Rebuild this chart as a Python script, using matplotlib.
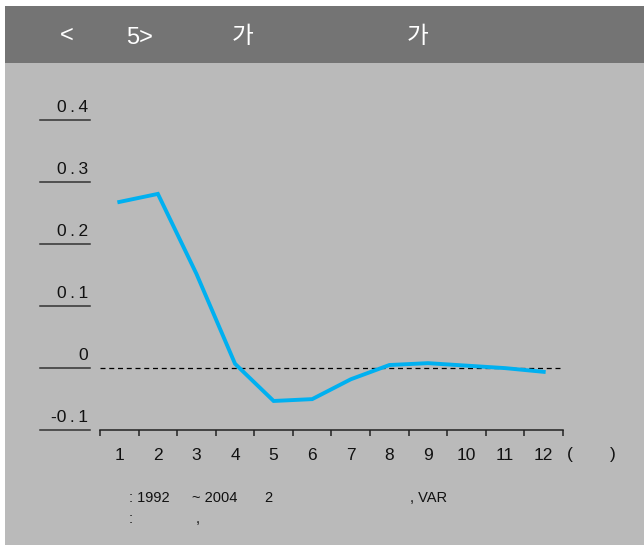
import matplotlib
matplotlib.use('Agg')
import matplotlib.pyplot as plt
import matplotlib.transforms as mtransforms
from matplotlib.patches import Rectangle

plt.rcParams['font.family'] = ['Liberation Sans', 'Noto Sans CJK KR', 'DejaVu Sans']

# 데이터
months = list(range(1, 13))
response = [0.267, 0.280, 0.151, 0.006, -0.054, -0.051, -0.019, 0.004, 0.007, 0.003, -0.001, -0.007]
y_ticks = [0.4, 0.3, 0.2, 0.1, 0.0, -0.1]
y_labels = ['0\u2009.\u20094', '0\u2009.\u20093', '0\u2009.\u20092', '0\u2009.\u20091', '0', '-0\u2009.\u20091']
x_labels = [str(m) for m in months]
title_parts = ['<', '5>', '가', '가']
note_line1 = [': 1992', '~ 2004', '2', ', VAR']
note_line2 = [':', ',']

W, H = 644, 545


def fx(x):
    return x / W


def fy(y):
    return 1 - y / H


fig = plt.figure(figsize=(W / 100, H / 100), dpi=100)
fig.patch.set_facecolor('white')

# 배경 / 제목 막대
fig.add_artist(Rectangle((fx(5), 0), 1 - fx(5), fy(6), transform=fig.transFigure,
                         facecolor='#bababa', edgecolor='none', zorder=0))
fig.add_artist(Rectangle((fx(5), fy(63)), 1 - fx(5), fy(6) - fy(63), transform=fig.transFigure,
                         facecolor='#747474', edgecolor='none', zorder=1))
for txt, xp, yp in zip(title_parts, [67, 140, 243, 418], [42, 44, 43, 43]):
    fig.text(fx(xp), fy(yp), txt, color='white', fontsize=17, ha='center', va='baseline')

ax = fig.add_axes([fx(100), fy(429.5), fx(563) - fx(100), fy(119.5) - fy(429.5)])
ax.set_xlim(0.5, 12.5)
ax.set_ylim(-0.1, 0.4)
ax.patch.set_visible(False)
for side in ['top', 'right', 'left']:
    ax.spines[side].set_visible(False)
ax.spines['bottom'].set_color('#222222')
ax.spines['bottom'].set_linewidth(1.1)

# x축 눈금 (구간 경계)
ax.set_xticks([m + 0.5 for m in [0] + months])
ax.set_xticklabels([])
ax.tick_params(axis='x', direction='out', length=4, width=1.1, color='#222222')
ax.set_yticks([])

# 0 기준선
ax.axhline(0, color='black', lw=0.9, ls=(0, (4, 3)), xmin=0, xmax=(560 - 100) / (563 - 100))

# 충격반응
ax.plot(months, response, color='#00b0f0', lw=2.8, solid_joinstyle='miter')

# x축 라벨
xtrans = mtransforms.blended_transform_factory(ax.transData, fig.transFigure)
for m, lab in zip(months, x_labels):
    ax.text(m, fy(455), lab, transform=xtrans, fontsize=12.5, ha='center', va='center',
            color='#111111')
fig.text(fx(570), fy(455), '(', fontsize=12.5, ha='center', va='center', color='#111111')
fig.text(fx(613), fy(455), ')', fontsize=12.5, ha='center', va='center', color='#111111')

# y축 라벨 + 밑줄
ytrans = mtransforms.blended_transform_factory(fig.transFigure, ax.transData)
for v, lab in zip(y_ticks, y_labels):
    fig.add_artist(plt.Line2D([fx(40), fx(90)], [v, v], transform=ytrans,
                              color='#333333', lw=1.1))
    t = mtransforms.offset_copy(ytrans, fig=fig, x=0, y=8, units='dots')
    fig.text(fx(88), v, lab, transform=t, fontsize=12.5, ha='right', va='baseline',
             color='#111111')

# 주석
for txt, xp in zip(note_line1, [129, 192, 264, 410]):
    fig.text(fx(xp), fy(498), txt, fontsize=10.5, ha='left', va='center', color='#111111')
for txt, xp in zip(note_line2, [129, 196]):
    fig.text(fx(xp), fy(519), txt, fontsize=10.5, ha='left', va='center', color='#111111')

fig.savefig('out.png', dpi=100)
